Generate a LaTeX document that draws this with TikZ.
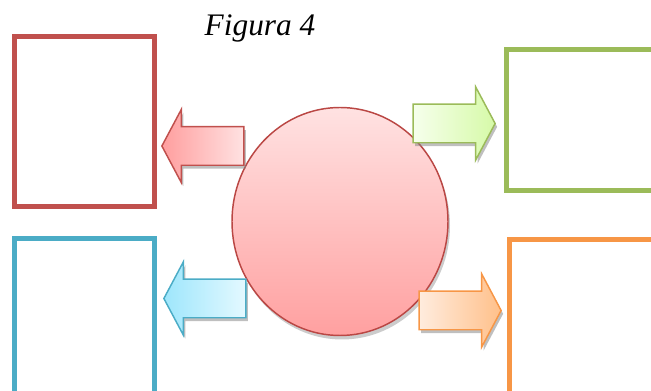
\documentclass[tikz,border=0pt]{standalone}
\usepackage{fontspec}
\setmainfont{Liberation Serif}
\usetikzlibrary{shapes.geometric,shapes.arrows,shadows}
\definecolor{boxred}{HTML}{C0504D}
\definecolor{boxgreen}{HTML}{9BBB59}
\definecolor{boxteal}{HTML}{4BACC6}
\definecolor{boxorange}{HTML}{F79646}
\definecolor{hubline}{HTML}{BA4744}
\begin{document}
\begin{tikzpicture}[x=0.75pt,y=-0.75pt,
  frame/.style={draw,line width=3.75pt,minimum width=105pt,inner sep=0pt},
  bigarrow/.style={single arrow,draw,line width=1.1pt,inner sep=0pt,inner ysep=13.9pt,
    minimum height=61.5pt,minimum width=0pt,single arrow head extend=13.1pt,
    single arrow tip angle=124,
    drop shadow={shadow xshift=1.5pt,shadow yshift=-2.5pt,fill=black!50}}]
\clip (0,0) rectangle (651,391);
\begin{scope}
\node[anchor=base,font=\itshape\fontsize{23.5}{28}\selectfont] (title) at (260,36) {Figura 4};
\node[frame,draw=boxred,minimum height=127.5pt] (redbox) at (84.5,121.5) {};
\node[frame,draw=boxgreen,minimum width=112.5pt,minimum height=105.75pt] (greenbox) at (581.5,120) {};
\node[frame,draw=boxteal,minimum height=128.6pt] (tealbox) at (84.5,324.25) {};
\node[frame,draw=boxorange,minimum width=112.5pt,minimum height=127.5pt] (orangebox) at (584.5,324.5) {};
\node[ellipse,draw=hubline,line width=1.1pt,minimum width=162pt,minimum height=171pt,
  top color={rgb,255:red,255;green,226;blue,226},bottom color={rgb,255:red,255;green,160;blue,160},
  drop shadow={shadow xshift=1.5pt,shadow yshift=-3pt,fill=black!40}] (hub) at (340,221.5) {};
\node[bigarrow,shape border rotate=180,draw=boxred,
  left color={rgb,255:red,255;green,158;blue,158},right color={rgb,255:red,255;green,226;blue,226}] (redarrow) at (208,146) {};
\node[bigarrow,draw=boxgreen,
  left color={rgb,255:red,246;green,255;blue,236},right color={rgb,255:red,214;green,250;blue,168}] (greenarrow) at (449,123.5) {};
\node[bigarrow,shape border rotate=180,draw=boxteal,
  left color={rgb,255:red,158;green,230;blue,252},right color={rgb,255:red,228;green,249;blue,255}] (tealarrow) at (210,298.5) {};
\node[bigarrow,draw=boxorange,
  left color={rgb,255:red,255;green,236;blue,222},right color={rgb,255:red,255;green,192;blue,138}] (orangearrow) at (455,310.5) {};
\end{scope}
\end{tikzpicture}
\end{document}
